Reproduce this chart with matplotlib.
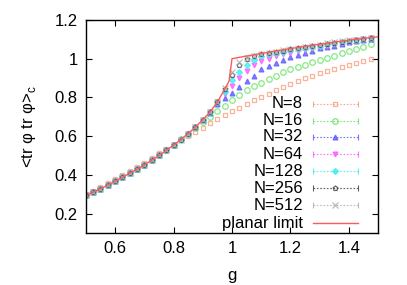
import matplotlib
matplotlib.use("Agg")
import matplotlib.pyplot as plt

plt.rcParams['font.family'] = ['Liberation Sans', 'DejaVu Sans']

# coupling values of the Monte Carlo points
g = [0.5, 0.525, 0.55, 0.575, 0.6, 0.625, 0.65, 0.675, 0.7, 0.725,
     0.75, 0.775, 0.8, 0.825, 0.85, 0.875, 0.9, 0.925, 0.95, 0.975,
     1.0, 1.025, 1.05, 1.075, 1.1, 1.125, 1.15, 1.175, 1.2, 1.225,
     1.25, 1.275, 1.3, 1.325, 1.35, 1.375, 1.4, 1.425, 1.45, 1.475]

n8 = [0.300, 0.318, 0.338, 0.358, 0.377, 0.398, 0.420, 0.440, 0.463, 0.487,
      0.513, 0.535, 0.555, 0.578, 0.600, 0.621, 0.642, 0.666, 0.690, 0.712,
      0.730, 0.747, 0.766, 0.786, 0.804, 0.819, 0.836, 0.853, 0.870, 0.885,
      0.899, 0.912, 0.925, 0.936, 0.948, 0.958, 0.968, 0.980, 0.990, 1.000]
n16 = [0.297, 0.312, 0.330, 0.349, 0.369, 0.389, 0.410, 0.431, 0.453, 0.478,
       0.503, 0.529, 0.556, 0.585, 0.612, 0.642, 0.671, 0.700, 0.728, 0.757,
       0.788, 0.815, 0.838, 0.858, 0.876, 0.895, 0.912, 0.929, 0.945, 0.958,
       0.970, 0.981, 0.992, 1.003, 1.015, 1.027, 1.039, 1.050, 1.062, 1.075]
n32 = [0.295, 0.311, 0.329, 0.348, 0.368, 0.388, 0.409, 0.430, 0.452, 0.476,
       0.501, 0.527, 0.554, 0.584, 0.615, 0.649, 0.685, 0.722, 0.765, 0.795,
       0.822, 0.855, 0.885, 0.912, 0.945, 0.963, 0.979, 0.994, 1.008, 1.018,
       1.030, 1.042, 1.054, 1.061, 1.068, 1.076, 1.086, 1.092, 1.098, 1.104]
n64 = [0.295, 0.311, 0.329, 0.348, 0.368, 0.388, 0.409, 0.430, 0.452, 0.476,
       0.501, 0.527, 0.554, 0.583, 0.614, 0.648, 0.686, 0.727, 0.775, 0.818,
       0.858, 0.898, 0.935, 0.967, 0.990, 1.001, 1.012, 1.022, 1.032, 1.040,
       1.047, 1.054, 1.061, 1.067, 1.074, 1.080, 1.087, 1.094, 1.101, 1.108]
n128 = [0.295, 0.311, 0.329, 0.348, 0.368, 0.388, 0.409, 0.430, 0.452, 0.476,
        0.501, 0.527, 0.554, 0.583, 0.614, 0.648, 0.686, 0.727, 0.777, 0.830,
        0.888, 0.932, 0.968, 0.992, 1.012, 1.022, 1.030, 1.037, 1.044, 1.050,
        1.056, 1.062, 1.068, 1.074, 1.079, 1.085, 1.090, 1.096, 1.102, 1.108]
n256 = [0.295, 0.311, 0.329, 0.348, 0.368, 0.388, 0.409, 0.430, 0.452, 0.476,
        0.501, 0.527, 0.554, 0.583, 0.614, 0.648, 0.686, 0.727, 0.777, 0.843,
        0.915, 0.965, 0.998, 1.013, 1.022, 1.030, 1.036, 1.042, 1.048, 1.054,
        1.060, 1.066, 1.072, 1.078, 1.083, 1.088, 1.093, 1.098, 1.103, 1.108]
n512 = [0.295, 0.311, 0.329, 0.348, 0.368, 0.388, 0.409, 0.430, 0.452, 0.476,
        0.501, 0.527, 0.554, 0.583, 0.614, 0.648, 0.686, 0.727, 0.777, 0.848,
        0.930, 0.982, 1.005, 1.016, 1.024, 1.031, 1.037, 1.043, 1.049, 1.055,
        1.061, 1.067, 1.073, 1.079, 1.084, 1.089, 1.094, 1.099, 1.104, 1.109]

# planar limit curve
planar_g = [0.5, 0.525, 0.55, 0.575, 0.6, 0.625, 0.65, 0.675, 0.7, 0.725,
            0.75, 0.775, 0.8, 0.825, 0.85, 0.875, 0.9, 0.925, 0.95, 0.975,
            0.99, 1.0, 1.025, 1.05, 1.075, 1.1, 1.125, 1.15, 1.175, 1.2,
            1.225, 1.25, 1.275, 1.3, 1.325, 1.35, 1.375, 1.4, 1.425, 1.45,
            1.475, 1.5]
planar = [0.295, 0.311, 0.329, 0.348, 0.368, 0.388, 0.409, 0.430, 0.452, 0.476,
          0.501, 0.527, 0.554, 0.583, 0.614, 0.648, 0.685, 0.726, 0.776, 0.843,
          0.885, 1.000, 1.007, 1.014, 1.020, 1.027, 1.033, 1.040, 1.046, 1.052,
          1.058, 1.064, 1.069, 1.075, 1.080, 1.086, 1.091, 1.096, 1.101, 1.105,
          1.109, 1.113]

labels = ['N=8', 'N=16', 'N=32', 'N=64', 'N=128', 'N=256', 'N=512']
series = [n8, n16, n32, n64, n128, n256, n512]
colors = ['#f7a080', '#66e466', '#6060ff', '#ff5cff', '#40eef5', '#484848', '#b0b0b0']
markers = ['s', 'o', '^', 'v', 'D', 'p', 'x']
filled = [False, False, True, True, True, False, False]
sizes = [3.5, 4, 3.5, 3.5, 3, 3.5, 4]

fig = plt.figure(figsize=(4.07, 2.85), dpi=100)
ax = fig.add_axes([0.211, 0.182, 0.718, 0.748])

for y, c, m, f, s in zip(series, colors, markers, filled, sizes):
    ax.plot(g, y, linestyle='none', marker=m, markersize=s, color=c,
            markerfacecolor=c if f else 'none', markeredgewidth=0.9, alpha=0.8)
ax.plot(planar_g, planar, color='#ff5a5a', linewidth=1.0)

ax.set_xlim(0.5, 1.5)
ax.set_ylim(0.1, 1.2)
ax.set_xticks([0.6, 0.8, 1.0, 1.2, 1.4])
ax.set_xticklabels(['0.6', '0.8', '1', '1.2', '1.4'])
ax.set_yticks([0.2, 0.4, 0.6, 0.8, 1.0, 1.2])
ax.set_yticklabels(['0.2', '0.4', '0.6', '0.8', '1', '1.2'])
ax.tick_params(direction='in', length=4, width=0.8, top=True, right=True,
               labelsize=12, pad=6)
for sp in ax.spines.values():
    sp.set_linewidth(1.0)

ax.set_xlabel('g', fontsize=12, labelpad=8)
ax.set_ylabel(r'<tr φ tr φ>$_\mathregular{c}$', fontsize=12, labelpad=12)

# gnuplot style key: label right-aligned, sample with end caps
tx, x0, xm, x1 = 0.743, 0.777, 0.853, 0.932
rows = [0.606, 0.526, 0.451, 0.371, 0.291, 0.211, 0.131]
for lab, c, m, f, s, yr in zip(labels, colors, markers, filled, sizes, rows):
    ax.text(tx, yr, lab, transform=ax.transAxes, ha='right', va='center', fontsize=12)
    ax.plot([x0, x1], [yr, yr], transform=ax.transAxes, color=c, linewidth=0.8,
            linestyle=(0, (1.5, 1.5)), alpha=0.85)
    ax.plot([x0, x1], [yr, yr], transform=ax.transAxes, linestyle='none', marker='|',
            markersize=4, color=c, markeredgewidth=0.8, alpha=0.85)
    ax.plot([xm], [yr], transform=ax.transAxes, linestyle='none', marker=m, markersize=s,
            color=c, markerfacecolor=c if f else 'none', markeredgewidth=0.9, alpha=0.85)
ax.text(tx, 0.047, 'planar limit', transform=ax.transAxes, ha='right', va='center', fontsize=12)
ax.plot([x0, x1], [0.047, 0.047], transform=ax.transAxes, color='#ff5a5a', linewidth=1.0)

fig.savefig('out.png', dpi=100)
